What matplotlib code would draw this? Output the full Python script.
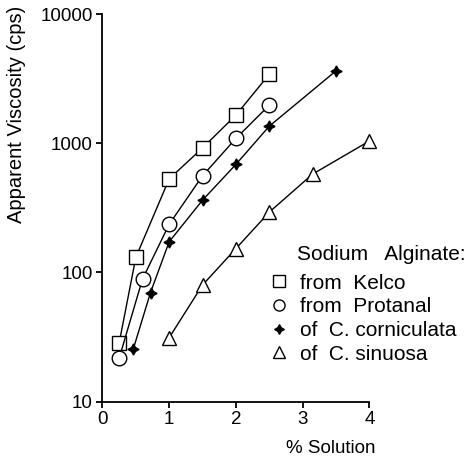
import matplotlib
matplotlib.use("Agg")
import matplotlib.pyplot as plt
from matplotlib.lines import Line2D

plt.rcParams['font.family'] = ['Liberation Sans', 'DejaVu Sans']

# Data
kelco_x = [0.25, 0.5, 1.0, 1.5, 2.0, 2.5]
kelco_y = [28.5, 131, 530, 920, 1650, 3420]

protanal_x = [0.25, 0.6, 1.0, 1.5, 2.0, 2.5]
protanal_y = [21.7, 89, 236, 560, 1090, 1970]

cornic_x = [0.46, 0.72, 1.0, 1.5, 2.0, 2.5, 3.5]
cornic_y = [25.4, 70, 173, 363, 686, 1355, 3630]

sinuosa_x = [1.0, 1.5, 2.0, 2.5, 3.15, 4.0]
sinuosa_y = [31.3, 80, 153, 293, 577, 1040]

xticks = [0, 1, 2, 3, 4]
yticks = [10, 100, 1000, 10000]
ytick_labels = ["10", "100", "1000", "10000"]

legend_title = "Sodium   Alginate:"
legend_labels = ["from  Kelco", "from  Protanal", "of  C. corniculata", "of  C. sinuosa"]

fig = plt.figure(figsize=(4.76, 4.61), dpi=100)
ax = fig.add_axes([0.2153, 0.1286, 0.5606, 0.8410])

lw = 1.0
common = dict(color='black', lw=lw, mec='black', mew=1.0, clip_on=False)
ax.plot(kelco_x, kelco_y, marker='s', ms=10, mfc='white', **common)
ax.plot(protanal_x, protanal_y, marker='o', ms=10.5, mfc='white', **common)
ax.plot(cornic_x, cornic_y, marker=(4, 1, 0), ms=8, mfc='black', **common)
ax.plot(sinuosa_x, sinuosa_y, marker='^', ms=10.5, mfc='white', **common)

ax.set_yscale('log')
ax.set_xlim(0, 4)
ax.set_ylim(10, 10000)
ax.set_xticks(xticks)
ax.set_xticklabels([str(t) for t in xticks])
ax.set_yticks(yticks)
ax.set_yticklabels(ytick_labels)
ax.yaxis.set_minor_locator(matplotlib.ticker.NullLocator())

for s in ['top', 'right']:
    ax.spines[s].set_visible(False)
for s in ['left', 'bottom']:
    ax.spines[s].set_linewidth(1.3)

ax.tick_params(axis='both', direction='out', length=4, width=1.3,
               labelsize=13.5, pad=3)

ax.set_xlabel("% Solution", fontsize=13.5)
ax.xaxis.set_label_coords(0.856, -0.10)
ax.set_ylabel("Apparent Viscosity (cps)", fontsize=14.5)
ax.yaxis.set_label_coords(-0.285, 0.74)

# Legend
handles = [
    Line2D([], [], ls='none', marker='s', ms=8, mfc='white', mec='black', mew=1.0),
    Line2D([], [], ls='none', marker='o', ms=8, mfc='white', mec='black', mew=1.0),
    Line2D([], [], ls='none', marker=(4, 1, 0), ms=7, mfc='black', mec='black', mew=1.0),
    Line2D([], [], ls='none', marker='^', ms=8, mfc='white', mec='black', mew=1.0),
]
leg = ax.legend(handles, legend_labels, loc='upper left',
                bbox_to_anchor=(0.63, 0.33), frameon=False, fontsize=15,
                handlelength=0.8, handletextpad=0.6, labelspacing=0.22,
                borderpad=0, borderaxespad=0)
ax.text(0.729, 0.381, legend_title, transform=ax.transAxes, fontsize=15,
        ha='left', va='center')

fig.savefig("out.png", dpi=100)
